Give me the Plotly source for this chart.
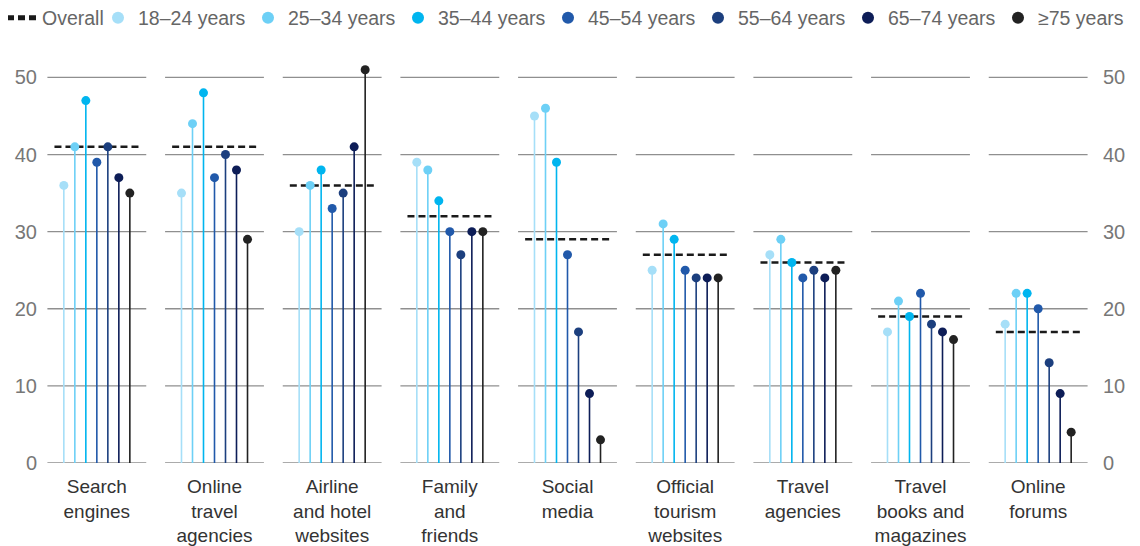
import plotly.graph_objects as go

categories = ["Search<br>engines", "Online<br>travel<br>agencies", "Airline<br>and hotel<br>websites",
              "Family<br>and<br>friends", "Social<br>media", "Official<br>tourism<br>websites",
              "Travel<br>agencies", "Travel<br>books and<br>magazines", "Online<br>forums"]
age_groups = ["18–24 years", "25–34 years", "35–44 years", "45–54 years",
              "55–64 years", "65–74 years", "≥75 years"]
overall = [41, 41, 36, 32, 29, 27, 26, 19, 17]
values = {
    "18–24 years": [36, 35, 30, 39, 45, 25, 27, 17, 18],
    "25–34 years": [41, 44, 36, 38, 46, 31, 29, 21, 22],
    "35–44 years": [47, 48, 38, 34, 39, 29, 26, 19, 22],
    "45–54 years": [39, 37, 33, 30, 27, 25, 24, 22, 20],
    "55–64 years": [41, 40, 35, 27, 17, 24, 25, 18, 13],
    "65–74 years": [37, 38, 41, 30, 9, 24, 24, 17, 9],
    "≥75 years":   [35, 29, 51, 30, 3, 24, 25, 16, 4],
}
colors = ["#a6dff8", "#6dd0f6", "#00b5ef", "#2159aa", "#1c3f7e", "#0d1d57", "#222222"]
y_ticks = [0, 10, 20, 30, 40, 50]

STEP = 0.0935      # spacing between lollipops within a group (x units)
GRID_HALF = 0.42   # half-width of grid segment per group
DASH_HALF = 0.36   # half-width of overall dashed line

FONT = "Liberation Sans, Arial, sans-serif"
n = len(categories)
W, H = 1132, 538   # page body adds an 8px offset
L, R, T, B = 30, 43, 54, 83
PW, PH = W - L - R, H - T - B
fig = go.Figure()

# overall dashed lines
ox, oy = [], []
for i, v in enumerate(overall):
    ox += [i - DASH_HALF, i + DASH_HALF, None]
    oy += [v, v, None]
fig.add_trace(go.Scatter(x=ox, y=oy, mode="lines", name="Overall", legend="legend2",
                         line=dict(color="#1a1a1a", width=2.5, dash="7px,4px"),
                         hoverinfo="skip"))

# lollipops
for j, (ag, col) in enumerate(zip(age_groups, colors)):
    xs = [i + (j - 3) * STEP for i in range(n)]
    vals = values[ag]
    fig.add_trace(go.Scatter(
        x=xs, y=vals, mode="markers", name=ag, legend="legend",
        marker=dict(color=col, size=9, line=dict(width=0)),
        error_y=dict(type="data", symmetric=False, array=[0] * n, arrayminus=vals,
                     width=0, thickness=1.6, color=col),
        cliponaxis=False,
    ))

# invisible trace for right axis
fig.add_trace(go.Scatter(x=[0], y=[0], yaxis="y2", mode="markers",
                         marker=dict(opacity=0), showlegend=False, hoverinfo="skip"))

# segmented gridlines
for t in y_ticks:
    for i in range(n):
        fig.add_shape(type="line", xref="x", yref="y", x0=i - GRID_HALF, x1=i + GRID_HALF,
                      y0=t, y1=t, line=dict(color="#8f8f8f", width=1.3), layer="below")

leg_y = (PH + T - 10) / PH   # legend row centre, ~10px from top of figure
leg_font = dict(size=19.5, color="#666", family=FONT)
yr = [0, 52]
fig.update_layout(
    width=W, height=H,
    margin=dict(l=L, r=R, t=T, b=B, autoexpand=False),
    paper_bgcolor="white", plot_bgcolor="white",
    font=dict(family=FONT, size=19, color="#333"),
    showlegend=True,
    legend=dict(orientation="h", x=(90 - L) / PW, xanchor="left", y=leg_y, yanchor="middle",
                font=leg_font, itemsizing="constant", entrywidth=105, entrywidthmode="pixels",
                traceorder="normal", bgcolor="rgba(0,0,0,0)"),
    legend2=dict(orientation="h", x=(-6 - L) / PW, xanchor="left", y=leg_y, yanchor="middle",
                 font=leg_font, itemsizing="constant", bgcolor="rgba(0,0,0,0)"),
    xaxis=dict(range=[-0.5, n - 0.5], tickmode="array", tickvals=list(range(n)),
               ticktext=categories, showgrid=False, zeroline=False, showline=False,
               ticks="", automargin=False, ticklabelstandoff=10,
               tickfont=dict(size=19, color="#333")),
    yaxis=dict(range=yr, tickmode="array", tickvals=y_ticks, showgrid=False, zeroline=False,
               showline=False, ticks="", automargin=False, tickfont=dict(size=20, color="#777")),
    yaxis2=dict(range=yr, overlaying="y", side="right", tickmode="array", tickvals=y_ticks,
                showgrid=False, zeroline=False, showline=False, ticks="", automargin=False,
                ticklabelstandoff=5, tickfont=dict(size=20, color="#777")),
)

fig.write_html("out.html")
